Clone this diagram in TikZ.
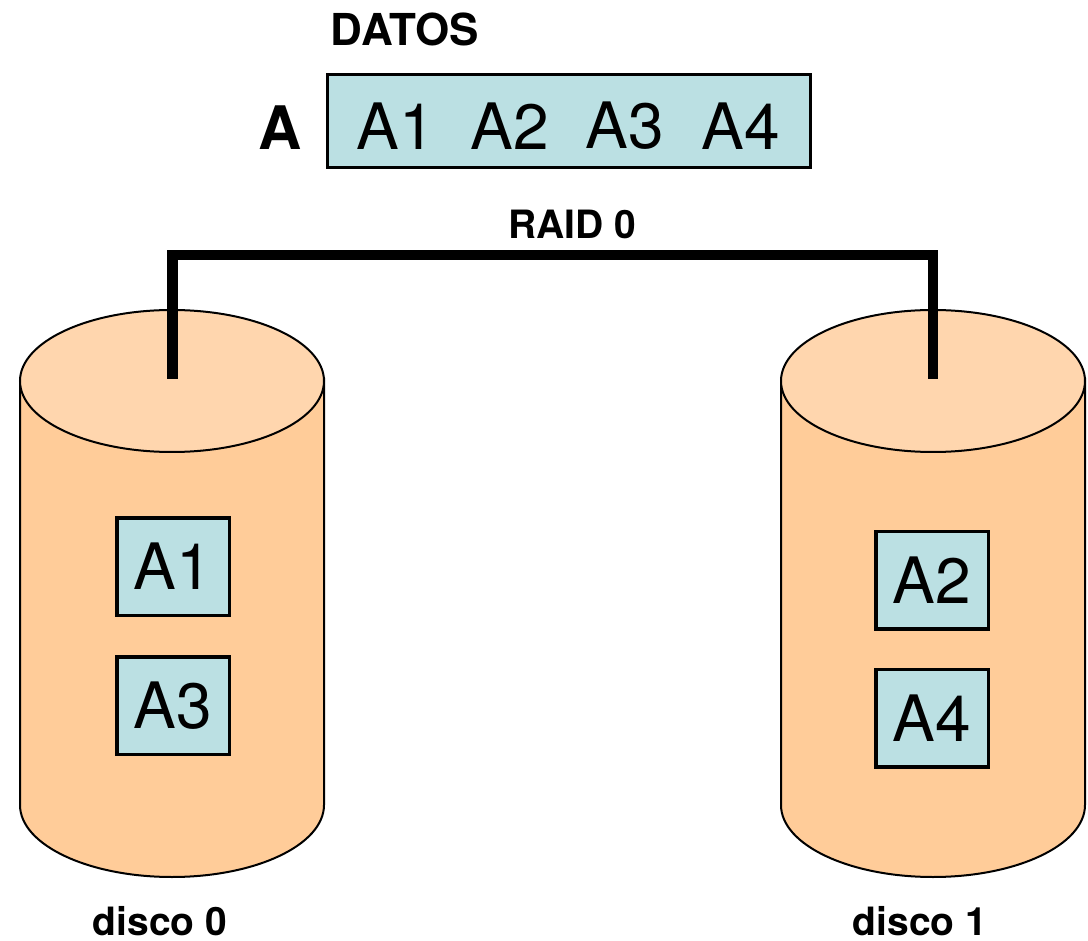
\documentclass[tikz,border=0pt]{standalone}
\usepackage{fontspec}
\setmainfont{TeX Gyre Heros}
\definecolor{cylbody}{HTML}{FFCC99}
\definecolor{cyltop}{HTML}{FFD6AE}
\definecolor{boxfill}{HTML}{BBE0E3}
\tikzset{
  px/.style={x=1pt,y=-1pt},
  databox/.style={draw=black,line width=3.5pt,fill=boxfill,inner sep=0pt,font=\fontsize{64}{64}\selectfont},
  toptext/.style={inner sep=0pt,font=\fontsize{64}{64}\selectfont},
  boldlbl/.style={inner sep=0pt,font=\bfseries\fontsize{39}{39}\selectfont},
  cyl/.style={draw=black,line width=2pt,fill=cylbody},
  cyltopst/.style={draw=black,line width=2pt,fill=cyltop},
  bus/.style={draw=black,line width=10.5pt,line join=miter}
}
\begin{document}
\begin{tikzpicture}[px]
\useasboundingbox (0,0) rectangle (1088,941);
% cylinders
\path[cyl] (20,379) -- (20,805) arc[start angle=180,end angle=0,x radius=152,y radius=72] -- (324,379) -- cycle;
\path[cyltopst] (172,381) ellipse [x radius=152,y radius=71];
\path[cyl] (781,379) -- (781,805) arc[start angle=180,end angle=0,x radius=152,y radius=72] -- (1085,379) -- cycle;
\path[cyltopst] (933,381) ellipse [x radius=152,y radius=71];
% top box
\node[databox,minimum width=483pt,minimum height=93pt] (data) at (569,121) {};
\node[toptext] (t1) at (396,126) {A1};
\node[toptext] (t2) at (510,126) {A2};
\node[toptext] (t3) at (625,126) {A3};
\node[toptext] (t4) at (741,126) {A4};
\node[inner sep=0pt,font=\bfseries\fontsize{44}{44}\selectfont] (datos) at (405,29) {DATOS};
\node[inner sep=0pt,font=\bfseries\fontsize{60}{60}\selectfont] (a) at (280,128) {A};
\node[boldlbl] (raid) at (572,224) {RAID 0};
% bus
\coordinate (c0) at (172.5,379);
\coordinate (c1) at (933,379);
\coordinate (j0) at (172.5,255);
\coordinate (j1) at (933,255);
\draw[bus] (c0) -- (j0) -- (j1) -- (c1);
% small boxes
\node[databox,minimum width=112.5pt,minimum height=97.5pt] (a1) at (173,566.5) {A1};
\node[databox,minimum width=112.5pt,minimum height=97.5pt] (a3) at (173,705.5) {A3};
\node[databox,minimum width=112.5pt,minimum height=97.5pt] (a2) at (932,580) {A2};
\node[databox,minimum width=112.5pt,minimum height=97.5pt] (a4) at (932,718) {A4};
\node[boldlbl] (d0) at (160,921) {disco 0};
\node[boldlbl] (d1) at (920,921) {disco 1};
\end{tikzpicture}
\end{document}
